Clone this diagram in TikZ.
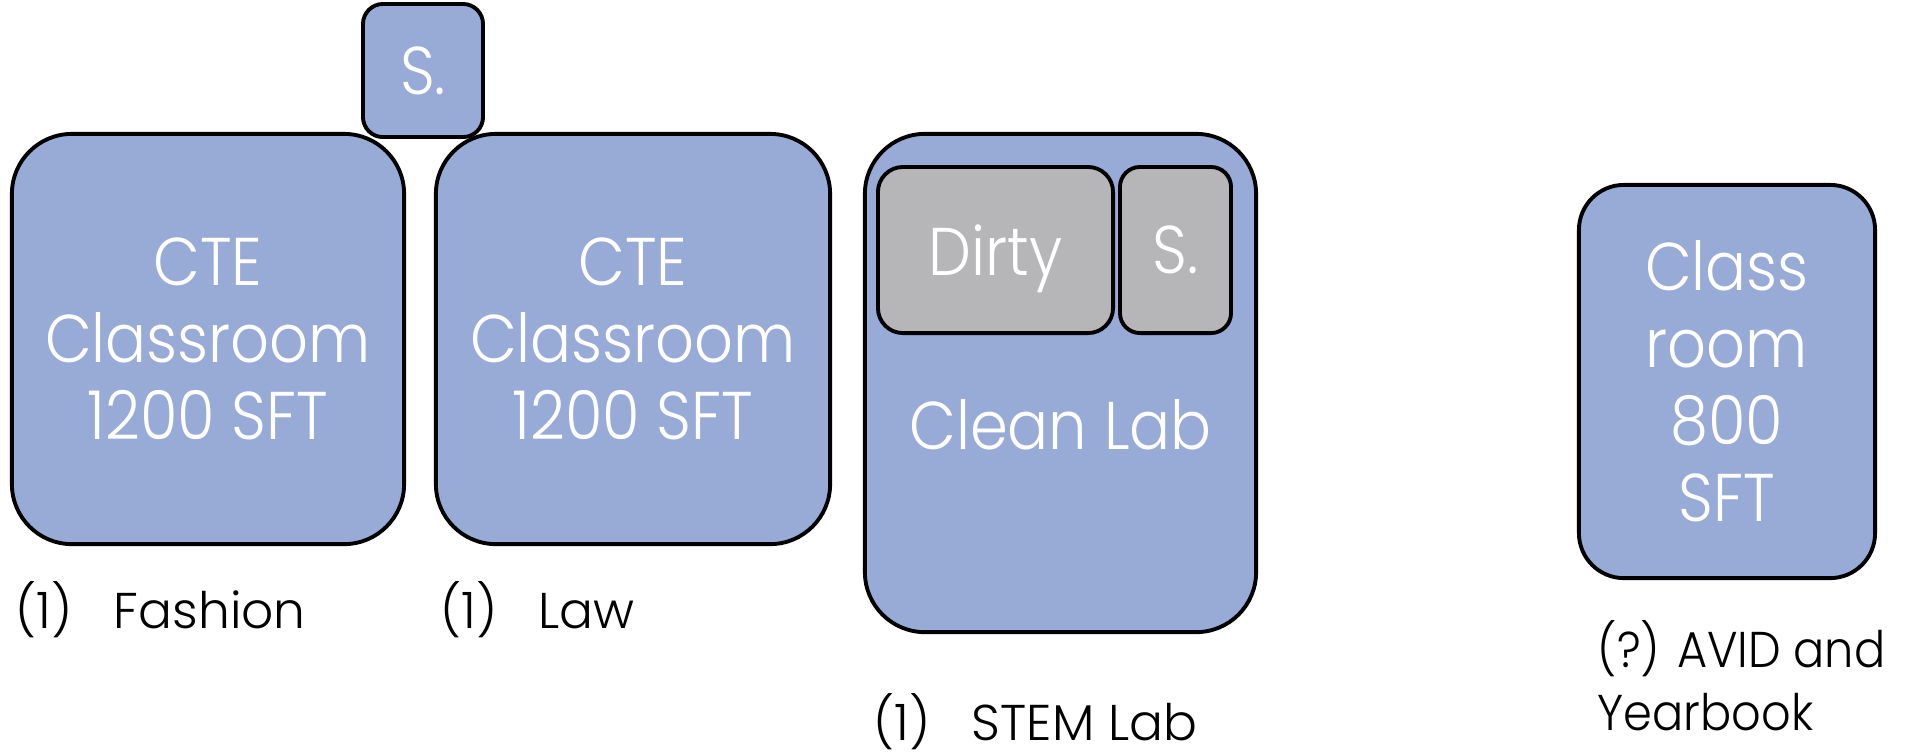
\documentclass[tikz,border=0pt]{standalone}
\usepackage{fontspec}
\setmainfont{Poppins}[UprightFont=* Light]
\newfontfamily\roomfont{Poppins}[UprightFont=* Light,FakeStretch=0.9]
\newfontfamily\narrowfont{Poppins}[UprightFont=* Light,FakeStretch=0.92]
\definecolor{roomblue}{HTML}{98AAD6}
\definecolor{roomgray}{HTML}{B6B6B8}
\newcommand{\bigtxt}{\roomfont\fontsize{19.2}{21.9}\selectfont}
\newcommand{\smalltxt}{\fontsize{14.3}{18}\selectfont}
\begin{document}
\begin{tikzpicture}[x=0.01cm,y=-0.01cm,
    room/.style={draw,line width=1.1pt,fill=roomblue,rounded corners=0.6cm,
      text=white,align=center,font=\bigtxt,inner sep=0pt},
    closet/.style={room,rounded corners=0.2cm},
    lab/.style={closet,fill=roomgray,rounded corners=0.25cm,text depth=0pt},
    tag/.style={font=\smalltxt,inner sep=0pt,anchor=base west}]
  \useasboundingbox (0,0) rectangle (1905,753);
  % rooms
  \node[closet,minimum width=1.2cm,minimum height=1.33cm] (store) at (423,70.5) {S.};
  \node[room,minimum width=3.92cm,minimum height=4.1cm] (fashion) at (208,339) {CTE\\Classroom\\1200 SFT};
  \node[room,minimum width=3.94cm,minimum height=4.1cm] (law) at (633,339) {CTE\\Classroom\\1200 SFT};
  \node[room,minimum width=3.91cm,minimum height=4.98cm] (stem) at (1060.5,383) {};
  \node[lab,minimum width=2.35cm,minimum height=1.66cm] (dirty) at (995.5,250) {Dirty};
  \node[lab,rounded corners=0.2cm,minimum width=1.11cm,minimum height=1.66cm] (labstore) at (1175.5,250) {S.};
  \node[text=white,font=\bigtxt,inner sep=0pt,anchor=base] (clean) at (1060.5,449) {Clean Lab};
  \node[room,rounded corners=0.45cm,minimum width=2.96cm,minimum height=3.93cm] (avid) at (1727,381.5) {Class\\room\\800\\SFT};
  % labels
  \node[tag] (fashiontag) at (15,628) {\makebox[27.9pt][l]{(1)}Fashion};
  \node[tag] (lawtag) at (440,628) {\makebox[27.9pt][l]{(1)}Law};
  \node[tag] (stemtag) at (873,740) {\makebox[27.9pt][l]{(1)}STEM Lab};
  \node[tag,anchor=north west,align=left,font=\narrowfont\smalltxt] (avidtag) at (1597,620) {(?) AVID and\\Yearbook};
\end{tikzpicture}
\end{document}
